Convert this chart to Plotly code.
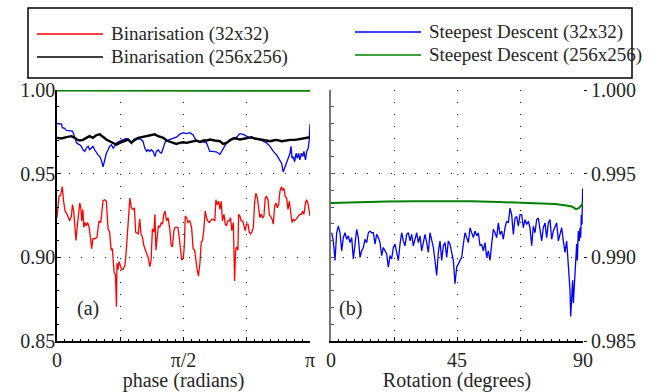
import numpy as np
import plotly.graph_objects as go

# ---------------- data: panel (a), phase in units of pi ----------------
bin32_phase = [0.000, 0.008, 0.015, 0.021, 0.026, 0.032, 0.037, 0.044, 0.050, 0.057,
               0.061, 0.066, 0.071, 0.075, 0.079, 0.084, 0.090, 0.094, 0.098, 0.102,
               0.106, 0.111, 0.116, 0.121, 0.127, 0.132, 0.137, 0.142, 0.149, 0.158,
               0.166, 0.173, 0.182, 0.189, 0.195, 0.202, 0.208, 0.214, 0.219, 0.222,
               0.226, 0.231, 0.235, 0.237, 0.241, 0.245, 0.251, 0.256, 0.261, 0.269,
               0.274, 0.281, 0.288, 0.294, 0.301, 0.306, 0.311, 0.321, 0.327, 0.332,
               0.338, 0.343, 0.348, 0.354, 0.361, 0.367, 0.372, 0.377, 0.383, 0.387,
               0.391, 0.396, 0.401, 0.406, 0.412, 0.417, 0.422, 0.427, 0.433, 0.439,
               0.446, 0.451, 0.456, 0.462, 0.467, 0.472, 0.478, 0.483, 0.488, 0.493,
               0.499, 0.503, 0.507, 0.512, 0.518, 0.525, 0.532, 0.538, 0.544, 0.549,
               0.554, 0.559, 0.565, 0.570, 0.575, 0.580, 0.586, 0.591, 0.596, 0.602,
               0.607, 0.612, 0.617, 0.624, 0.628, 0.633, 0.639, 0.644, 0.649, 0.654,
               0.660, 0.665, 0.670, 0.675, 0.681, 0.686, 0.691, 0.697, 0.702, 0.706,
               0.710, 0.715, 0.718, 0.723, 0.728, 0.734, 0.739, 0.744, 0.749, 0.755,
               0.760, 0.765, 0.770, 0.776, 0.781, 0.786, 0.792, 0.797, 0.802, 0.807,
               0.813, 0.818, 0.823, 0.828, 0.834, 0.839, 0.844, 0.850, 0.855, 0.860,
               0.865, 0.871, 0.876, 0.881, 0.887, 0.892, 0.897, 0.902, 0.908, 0.913,
               0.918, 0.923, 0.929, 0.934, 0.939, 0.945, 0.950, 0.955, 0.960, 0.966,
               0.971, 0.976, 0.982, 0.987, 0.993, 1.000]
bin32_val = [0.9237, 0.9364, 0.9374, 0.9422, 0.9335, 0.9276, 0.9266, 0.9237, 0.9218, 0.9247,
             0.9315, 0.9276, 0.9159, 0.9101, 0.9169, 0.9257, 0.9325, 0.9296, 0.9218, 0.9286,
             0.9179, 0.9208, 0.9189, 0.9208, 0.9179, 0.9120, 0.9052, 0.9111, 0.9111, 0.9120,
             0.9218, 0.9208, 0.9338, 0.9344, 0.9335, 0.9169, 0.9150, 0.9043, 0.9052, 0.8984,
             0.8906, 0.8897, 0.8705, 0.8965, 0.8926, 0.8975, 0.8945, 0.8926, 0.8926, 0.8955,
             0.9043, 0.9237, 0.9354, 0.9296, 0.9286, 0.9296, 0.9150, 0.9140, 0.9228, 0.9140,
             0.9120, 0.9072, 0.9052, 0.9023, 0.8994, 0.8945, 0.8984, 0.9169, 0.9150, 0.9257,
             0.9043, 0.9120, 0.9189, 0.9179, 0.9208, 0.9198, 0.9257, 0.9276, 0.9218, 0.9237,
             0.9169, 0.9072, 0.9062, 0.9159, 0.9179, 0.9179, 0.9179, 0.9120, 0.9043, 0.8984,
             0.8994, 0.9062, 0.9247, 0.9237, 0.9208, 0.9218, 0.9179, 0.9052, 0.9043, 0.8965,
             0.8926, 0.8887, 0.8965, 0.9091, 0.9101, 0.9159, 0.9276, 0.9237, 0.9218, 0.9208,
             0.9218, 0.9228, 0.9228, 0.9218, 0.9344, 0.9315, 0.9335, 0.9286, 0.9335, 0.9218,
             0.9257, 0.9198, 0.9189, 0.9218, 0.9218, 0.9237, 0.9159, 0.9208, 0.8858, 0.9043,
             0.9062, 0.9043, 0.9257, 0.9247, 0.9218, 0.9218, 0.9189, 0.9159, 0.9198, 0.9198,
             0.9150, 0.9140, 0.9150, 0.9179, 0.9325, 0.9383, 0.9354, 0.9296, 0.9237, 0.9257,
             0.9237, 0.9247, 0.9354, 0.9364, 0.9344, 0.9257, 0.9247, 0.9228, 0.9198, 0.9305,
             0.9325, 0.9296, 0.9315, 0.9393, 0.9422, 0.9403, 0.9412, 0.9364, 0.9354, 0.9286,
             0.9335, 0.9257, 0.9208, 0.9228, 0.9218, 0.9228, 0.9237, 0.9247, 0.9257, 0.9257,
             0.9276, 0.9257, 0.9325, 0.9344, 0.9315, 0.9247]

bin256_phase = [0.000, 0.017, 0.037, 0.057, 0.070, 0.079, 0.090, 0.103, 0.116, 0.129,
                0.142, 0.156, 0.169, 0.182, 0.195, 0.208, 0.222, 0.235, 0.248, 0.268,
                0.281, 0.294, 0.307, 0.321, 0.334, 0.354, 0.373, 0.387, 0.400, 0.420,
                0.433, 0.446, 0.459, 0.472, 0.485, 0.499, 0.512, 0.532, 0.551, 0.565,
                0.578, 0.591, 0.604, 0.624, 0.644, 0.657, 0.670, 0.683, 0.697, 0.710,
                0.723, 0.743, 0.756, 0.769, 0.782, 0.802, 0.815, 0.828, 0.842, 0.855,
                0.868, 0.888, 0.901, 0.921, 0.941, 0.954, 0.967, 0.980, 0.993, 1.000]
bin256_val = [0.9714, 0.9710, 0.9718, 0.9724, 0.9714, 0.9704, 0.9698, 0.9702, 0.9714, 0.9724,
              0.9714, 0.9731, 0.9735, 0.9718, 0.9704, 0.9694, 0.9684, 0.9673, 0.9684, 0.9694,
              0.9704, 0.9684, 0.9704, 0.9714, 0.9718, 0.9724, 0.9731, 0.9735, 0.9724, 0.9714,
              0.9698, 0.9690, 0.9684, 0.9678, 0.9684, 0.9688, 0.9684, 0.9690, 0.9698, 0.9690,
              0.9698, 0.9698, 0.9704, 0.9698, 0.9694, 0.9678, 0.9684, 0.9698, 0.9710, 0.9710,
              0.9704, 0.9710, 0.9714, 0.9718, 0.9710, 0.9704, 0.9698, 0.9694, 0.9694, 0.9698,
              0.9702, 0.9694, 0.9698, 0.9702, 0.9702, 0.9706, 0.9710, 0.9710, 0.9714, 0.9718]

sd32_phase = [0.000, 0.011, 0.018, 0.021, 0.030, 0.037, 0.050, 0.061, 0.066, 0.071,
              0.077, 0.083, 0.090, 0.096, 0.103, 0.110, 0.116, 0.123, 0.129, 0.136,
              0.142, 0.149, 0.156, 0.162, 0.169, 0.175, 0.182, 0.189, 0.195, 0.202,
              0.208, 0.215, 0.222, 0.228, 0.235, 0.248, 0.261, 0.274, 0.288, 0.301,
              0.314, 0.327, 0.340, 0.347, 0.354, 0.360, 0.367, 0.373, 0.380, 0.387,
              0.393, 0.400, 0.406, 0.413, 0.420, 0.426, 0.433, 0.446, 0.459, 0.472,
              0.485, 0.499, 0.512, 0.525, 0.538, 0.551, 0.565, 0.578, 0.591, 0.598,
              0.604, 0.617, 0.631, 0.644, 0.650, 0.657, 0.664, 0.670, 0.683, 0.697,
              0.710, 0.723, 0.736, 0.749, 0.763, 0.776, 0.789, 0.802, 0.815, 0.828,
              0.842, 0.855, 0.868, 0.881, 0.888, 0.894, 0.901, 0.908, 0.914, 0.921,
              0.925, 0.929, 0.934, 0.939, 0.945, 0.950, 0.955, 0.960, 0.966, 0.971,
              0.976, 0.982, 0.987, 0.993, 0.997, 1.000]
sd32_val = [0.9800, 0.9800, 0.9796, 0.9775, 0.9771, 0.9759, 0.9755, 0.9755, 0.9735, 0.9714,
            0.9684, 0.9678, 0.9673, 0.9663, 0.9643, 0.9633, 0.9653, 0.9663, 0.9643, 0.9653,
            0.9663, 0.9643, 0.9622, 0.9612, 0.9602, 0.9582, 0.9541, 0.9592, 0.9622, 0.9643,
            0.9663, 0.9673, 0.9653, 0.9663, 0.9684, 0.9694, 0.9704, 0.9710, 0.9694, 0.9690,
            0.9704, 0.9710, 0.9694, 0.9653, 0.9633, 0.9643, 0.9633, 0.9643, 0.9633, 0.9602,
            0.9633, 0.9643, 0.9629, 0.9622, 0.9653, 0.9684, 0.9698, 0.9704, 0.9710, 0.9718,
            0.9735, 0.9745, 0.9739, 0.9745, 0.9731, 0.9694, 0.9690, 0.9690, 0.9684, 0.9653,
            0.9633, 0.9633, 0.9629, 0.9616, 0.9633, 0.9653, 0.9673, 0.9684, 0.9704, 0.9710,
            0.9718, 0.9739, 0.9735, 0.9724, 0.9714, 0.9710, 0.9710, 0.9704, 0.9694, 0.9684,
            0.9663, 0.9633, 0.9612, 0.9582, 0.9561, 0.9510, 0.9541, 0.9571, 0.9602, 0.9622,
            0.9663, 0.9592, 0.9602, 0.9571, 0.9622, 0.9592, 0.9622, 0.9582, 0.9622, 0.9602,
            0.9633, 0.9582, 0.9633, 0.9653, 0.9704, 0.9796]

sd256_phase = [0.0, 0.1, 0.2, 0.3, 0.4, 0.5, 0.6, 0.7, 0.8, 0.9, 1.0]
sd256_val = [0.9997, 0.9997, 0.9997, 0.9996, 0.9996, 0.9996, 0.9996, 0.9995, 0.9994, 0.9994, 0.9995]

# ---------------- data: panel (b), rotation in degrees ----------------
rot_sd32_main = np.linspace(0.24, 85.36, 144)   # uniform sampling grid
rot_sd32_tail = [85.6, 85.95, 86.3, 86.55, 87.14, 87.5, 87.74, 87.98, 88.33, 88.69,
                 88.93, 89.17, 89.4, 89.64, 89.88, 90.0]
rot_sd32_val = [0.99147, 0.99098, 0.98981, 0.99147, 0.99186, 0.99147, 0.99039, 0.99118, 0.99147, 0.99108,
                0.99128, 0.99088, 0.99118, 0.98990, 0.99079, 0.99167, 0.99118, 0.99000, 0.99039, 0.99059,
                0.99108, 0.99088, 0.99147, 0.99157, 0.99147, 0.99147, 0.99079, 0.99137, 0.99118, 0.99088,
                0.99010, 0.99059, 0.99039, 0.99020, 0.98941, 0.99010, 0.98990, 0.99059, 0.99079, 0.99039,
                0.98981, 0.99079, 0.99147, 0.99098, 0.99069, 0.99137, 0.99147, 0.99098, 0.99137, 0.99069,
                0.99118, 0.99147, 0.99088, 0.99128, 0.99039, 0.99088, 0.99137, 0.99088, 0.99030, 0.99147,
                0.99098, 0.99059, 0.98981, 0.98892, 0.99030, 0.99098, 0.98981, 0.99069, 0.99088, 0.99000,
                0.99098, 0.99079, 0.99030, 0.98981, 0.98843, 0.98941, 0.98961, 0.98981, 0.99000, 0.99079,
                0.99147, 0.99118, 0.99088, 0.99177, 0.99147, 0.99118, 0.99157, 0.99128, 0.99147, 0.99069,
                0.99079, 0.99039, 0.99088, 0.99000, 0.99039, 0.98981, 0.99079, 0.99167, 0.99147, 0.99118,
                0.99206, 0.99137, 0.99157, 0.99108, 0.99177, 0.99216, 0.99206, 0.99294, 0.99255, 0.99137,
                0.99235, 0.99245, 0.99186, 0.99255, 0.99255, 0.99177, 0.99226, 0.99196, 0.99216, 0.99177,
                0.99069, 0.99186, 0.99147, 0.99226, 0.99235, 0.99147, 0.99098, 0.99177, 0.99206, 0.99118,
                0.99206, 0.99226, 0.99108, 0.99157, 0.99177, 0.99206, 0.99098, 0.99147, 0.99177, 0.99098,
                0.99030, 0.99098, 0.98941, 0.98804,
                0.98647, 0.98785, 0.98863, 0.98726, 0.98941, 0.99020, 0.99079, 0.98981, 0.99157, 0.99098,
                0.99177, 0.99118, 0.99255, 0.99196, 0.99412, 0.99333]
rot_sd32 = list(rot_sd32_main) + rot_sd32_tail

rot_sd256 = [0, 10, 20, 30, 40, 50, 60, 70, 75, 80, 84, 86, 87.5, 88.5, 89.3, 90]
rot_sd256_val = [0.99324, 0.99330, 0.99333, 0.99335, 0.99337, 0.99335, 0.99331, 0.99326,
                 0.99322, 0.99318, 0.99310, 0.99304, 0.99288, 0.99294, 0.99308, 0.99324]

# ---------------- figure ----------------
W, H = 657, 392
FONT = "Liberation Serif"
TXT = "#262626"
RED, BLACK, BLUE, GREEN = "#ff0000", "#000000", "#0000ff", "#008000"
GRID = dict(showgrid=True, gridcolor="#222222", gridwidth=1.3, griddash="1px,11px",
            automargin=False, zeroline=False)

fig = go.Figure()
pi = np.pi
fig.add_trace(go.Scatter(x=np.array(bin32_phase) * pi, y=bin32_val, mode="lines",
                         line=dict(color=RED, width=1.3), name="Binarisation (32x32)",
                         xaxis="x", yaxis="y", showlegend=False))
fig.add_trace(go.Scatter(x=np.array(sd32_phase) * pi, y=sd32_val, mode="lines",
                         line=dict(color=BLUE, width=1.3), name="Steepest Descent (32x32)",
                         xaxis="x", yaxis="y", showlegend=False))
fig.add_trace(go.Scatter(x=np.array(bin256_phase) * pi, y=bin256_val, mode="lines",
                         line=dict(color=BLACK, width=2.4), name="Binarisation (256x256)",
                         xaxis="x", yaxis="y", showlegend=False))
fig.add_trace(go.Scatter(x=np.array(sd256_phase) * pi, y=sd256_val, mode="lines",
                         line=dict(color=GREEN, width=2), name="Steepest Descent (256x256)",
                         xaxis="x", yaxis="y", showlegend=False))
fig.add_trace(go.Scatter(x=rot_sd32, y=rot_sd32_val, mode="lines",
                         line=dict(color=BLUE, width=1.3), name="Steepest Descent (32x32)",
                         xaxis="x2", yaxis="y2", showlegend=False))
fig.add_trace(go.Scatter(x=rot_sd256, y=rot_sd256_val, mode="lines",
                         line=dict(color=GREEN, width=2), name="Steepest Descent (256x256)",
                         xaxis="x2", yaxis="y3", showlegend=False))

ydom = [(H - 341) / H, (H - 90) / H]
tickfont = dict(family=FONT, size=20, color=TXT)

fig.update_layout(
    template="none",
    width=W, height=H, margin=dict(l=0, r=0, t=0, b=0, autoexpand=False),
    paper_bgcolor="white", plot_bgcolor="white",
    font=dict(family=FONT, size=20, color=TXT),
    xaxis=dict(domain=[57 / W, 310 / W], range=[0, pi], anchor="y",
               tickvals=[0, pi / 4, pi / 2, 3 * pi / 4, pi], ticktext=["0", "", "π/2", "", "π"],
               ticks="inside", ticklen=4, tickcolor="black", tickfont=tickfont,
               showline=True, linecolor="black", linewidth=1.5,
               minor=dict(ticks="inside", ticklen=2.5, dtick=pi / 32, tickcolor="black", showgrid=False),
               title=dict(text="phase (radians)", font=tickfont, standoff=0),
               **GRID),
    yaxis=dict(domain=ydom, range=[0.85, 1.0], anchor="x",
               tickvals=[0.85, 0.90, 0.95, 1.00], tickformat=".2f",
               ticks="inside", ticklen=4, tickcolor="black", tickfont=tickfont,
               ticklabelstandoff=-4,
               showline=True, linecolor="black", linewidth=1.5,
               minor=dict(ticks="inside", ticklen=2.5, dtick=0.01, tickcolor="black", showgrid=False),
               **GRID),
    xaxis2=dict(domain=[331 / W, 583 / W], range=[0, 90], anchor="y2",
                tickvals=[0, 22.5, 45, 67.5, 90], ticktext=["0", "", "45", "", "90"],
                ticks="inside", ticklen=4, tickcolor="black", tickfont=tickfont,
                showline=True, linecolor="black", linewidth=1.5,
                minor=dict(ticks="inside", ticklen=2.5, dtick=90 / 32, tickcolor="black", showgrid=False),
                title=dict(text="Rotation (degrees)", font=tickfont, standoff=0),
                **GRID),
    yaxis2=dict(domain=ydom, range=[0.985, 1.0], anchor="x2", side="left",
                showticklabels=False, ticks="inside", ticklen=4, tickcolor="#555555",
                tickvals=[0.985, 0.990, 0.995, 1.000],
                minor=dict(ticks="inside", ticklen=2.5, dtick=0.001, tickcolor="#555555", showgrid=False),
                showline=True, linecolor="#777777", linewidth=2,
                **GRID),
    yaxis3=dict(domain=ydom, range=[0.985, 1.0], anchor="x2", overlaying="y2", side="right",
                tickvals=[0.985, 0.990, 0.995, 1.000], tickformat=".3f",
                ticks="outside", ticklen=3, tickcolor="black", tickfont=tickfont,
                showline=False, showgrid=False, zeroline=False, automargin=False),
)

# panel labels
fig.add_annotation(text="(a)", x=75 / W, y=1 - 322 / H, xref="paper", yref="paper",
                   showarrow=False, font=tickfont)
fig.add_annotation(text="(b)", x=350 / W, y=1 - 322 / H, xref="paper", yref="paper",
                   showarrow=False, font=tickfont)

# legend (drawn as a boxed key above the panels)
fig.add_shape(type="rect", xref="paper", yref="paper",
              x0=28 / W, x1=632 / W, y0=1 - 78 / H, y1=1 - 8 / H,
              line=dict(color="black", width=1.5), fillcolor="white")
legend_items = [("Binarisation (32x32)", RED, 37, 34),
                ("Binarisation (256x256)", BLACK, 37, 57),
                ("Steepest Descent (32x32)", BLUE, 355, 32),
                ("Steepest Descent (256x256)", GREEN, 355, 55)]
for label, col, lx, ly in legend_items:
    fig.add_shape(type="line", xref="paper", yref="paper",
                  x0=lx / W, x1=(lx + 66) / W, y0=1 - ly / H, y1=1 - ly / H,
                  line=dict(color=col, width=1.5))
    fig.add_annotation(text=label, x=(lx + 72) / W, y=1 - ly / H, xref="paper", yref="paper",
                       xanchor="left", yanchor="middle", showarrow=False,
                       font=dict(family=FONT, size=19, color=TXT))

fig.write_html("out.html", config={"displayModeBar": False},
               post_script="document.body.style.margin='0';")
